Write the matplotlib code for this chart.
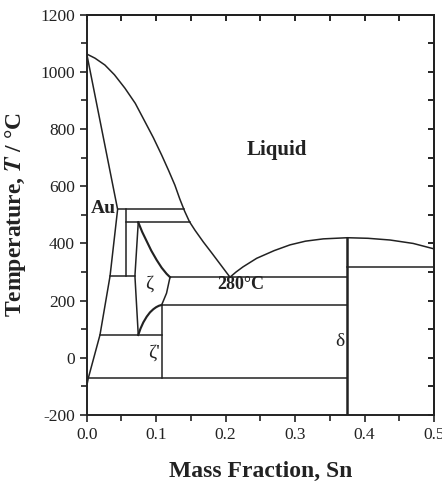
import matplotlib.pyplot as plt
from matplotlib.ticker import MultipleLocator

plt.rcParams['font.family'] = ['Liberation Serif', 'DejaVu Serif']
plt.rcParams['axes.unicode_minus'] = False
plt.rcParams['mathtext.fontset'] = 'stix'

# liquidus, Au side down to the eutectic at 280 C
liq_left_x = [0.0, 0.0014, 0.012, 0.0263, 0.04, 0.0551, 0.07, 0.0839, 0.096, 0.108,
              0.118, 0.127, 0.134, 0.141, 0.148, 0.156, 0.168, 0.18, 0.193, 0.2063]
liq_left_y = [1065, 1061, 1048, 1024, 990, 943, 890, 826, 770, 709,
              655, 604, 556, 513, 476, 446, 405, 367, 325, 282]
# liquidus, eutectic up to delta and beyond
liq_right_x = [0.2063, 0.215, 0.225, 0.2447, 0.27, 0.2927, 0.315, 0.3406, 0.3752,
               0.405, 0.4367, 0.47, 0.5]
liq_right_y = [282, 300, 318, 348, 375, 395, 408, 416, 420, 418, 412, 400, 381]
# Au solid boundary
au_x = [0.0, 0.0446, 0.0337, 0.0192, 0.0023, 0.0]
au_y = [1065, 519, 286, 80, -72, -101]
# zeta region
zeta_left_x = [0.0743, 0.0695, 0.0743]
zeta_left_y = [474, 286, 80]
zeta_top_x = [0.0743, 0.08, 0.0864, 0.093, 0.1008, 0.108, 0.115, 0.12]
zeta_top_y = [474, 440, 408, 375, 342, 315, 294, 282]
zeta_right_x = [0.12, 0.115, 0.108]
zeta_right_y = [282, 226, 185]
zeta_low_x = [0.0743, 0.0775, 0.0816, 0.0865, 0.0912, 0.096, 0.1, 0.104, 0.108]
zeta_low_y = [80, 102, 124, 144, 159, 170, 177, 182, 185]

# horizontal tie lines: (x0, x1, T)
hlines = [(0.0446, 0.1398, 519), (0.0561, 0.1485, 474), (0.0337, 0.0695, 286),
          (0.12, 0.375, 282), (0.108, 0.375, 185), (0.0192, 0.108, 80),
          (0.0, 0.375, -72), (0.375, 0.5, 316)]
# vertical lines: (x, T0, T1)
vlines = [(0.0561, 286, 519), (0.108, -72, 185)]
delta_x = 0.375
delta_y = [-200, 420]

labels = [("Liquid", 0.274, 727, 'bold', 15), ("Au", 0.024, 523, 'bold', 14),
          ("ζ", 0.0897, 258, 'normal', 14), ("280°C", 0.2217, 255, 'bold', 13),
          ("ζ'", 0.097, 16, 'normal', 14), ("δ", 0.3647, 56, 'normal', 14)]

fig = plt.figure(figsize=(4.42, 4.82), dpi=100)
ax = fig.add_axes([0.196, 0.139, 0.786, 0.8305])

lw = 1.1
c = '#222'
ax.plot(liq_left_x, liq_left_y, color=c, lw=lw)
ax.plot(liq_right_x, liq_right_y, color=c, lw=lw)
ax.plot(au_x, au_y, color=c, lw=lw)
ax.plot(zeta_left_x, zeta_left_y, color=c, lw=lw)
ax.plot(zeta_top_x, zeta_top_y, color=c, lw=lw * 1.4)
ax.plot(zeta_right_x, zeta_right_y, color=c, lw=lw)
ax.plot(zeta_low_x, zeta_low_y, color=c, lw=lw * 1.4)
for x0, x1, t in hlines:
    ax.plot([x0, x1], [t, t], color=c, lw=lw)
for x, t0, t1 in vlines:
    ax.plot([x, x], [t0, t1], color=c, lw=lw)
ax.plot([delta_x, delta_x], delta_y, color=c, lw=1.8)

for txt, x, y, w, s in labels:
    ax.text(x, y, txt, fontsize=s, fontweight=w, ha='center', va='center', color=c)

ax.set_xlim(0, 0.5)
ax.set_ylim(-200, 1200)
ax.xaxis.set_major_locator(MultipleLocator(0.1))
ax.xaxis.set_minor_locator(MultipleLocator(0.05))
ax.yaxis.set_major_locator(MultipleLocator(200))
ax.yaxis.set_minor_locator(MultipleLocator(100))
ax.xaxis.set_major_formatter(lambda v, p: f"{v:.1f}")
ax.tick_params(which='both', direction='out', top=False, right=False, labelsize=12.5,
               width=1.2, colors=c)
ax.tick_params(which='major', length=5)
ax.tick_params(which='minor', length=4)
sec_x = ax.secondary_xaxis('top')
sec_x.xaxis.set_major_locator(MultipleLocator(0.05))
sec_x.tick_params(direction='in', length=4, width=1.2, labeltop=False)
sec_y = ax.secondary_yaxis('right')
sec_y.yaxis.set_major_locator(MultipleLocator(100))
sec_y.tick_params(direction='in', length=4, width=1.2, labelright=False)
for s in list(ax.spines.values()) + [sec_x.spines['top'], sec_y.spines['right']]:
    s.set_linewidth(1.4)
    s.set_color(c)

ax.set_xlabel("Mass Fraction, Sn", fontsize=17, fontweight='bold', labelpad=13, color=c)
ax.set_ylabel(r"Temperature, $\boldsymbol{T}$ / °C", fontsize=17, fontweight='bold', labelpad=9, color=c)

fig.savefig("out.png", dpi=100)
